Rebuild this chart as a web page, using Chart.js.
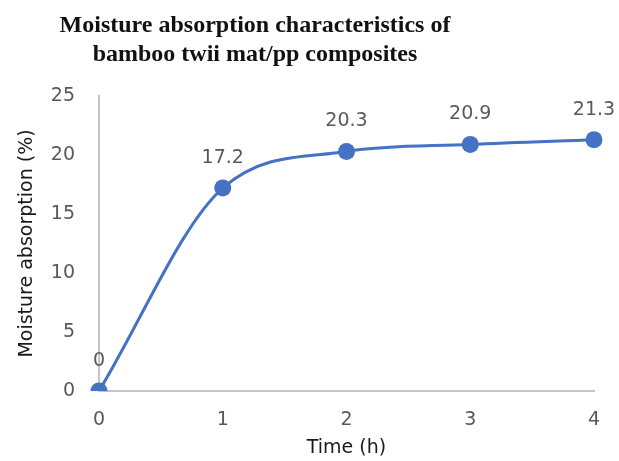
<!DOCTYPE html>
<html>
<head>
<meta charset="utf-8">
<script src="https://cdn.jsdelivr.net/npm/chart.js@4/dist/chart.umd.min.js"></script>
<style>
  html, body { margin: 0; padding: 0; background: #fff; }
  #wrap { width: 619px; height: 461px; }
</style>
</head>
<body>
<div id="wrap"><canvas id="chart" width="619" height="461"></canvas></div>
<script>
// Chart data
const timeLabels = ['0', '1', '2', '3', '4'];
const absorption = [0, 17.2, 20.3, 20.9, 21.3];
const titleLines = ['Moisture absorption characteristics of', 'bamboo twii mat/pp composites'];

const sans = "'DejaVu Sans', 'Noto Sans', sans-serif";

// Title drawn above the plot, centred a bit left of the canvas like the original
const titlePlugin = {
    id: 'topTitle',
    afterDraw(chart) {
        const ctx = chart.ctx;
        ctx.save();
        ctx.font = "bold 24px 'Liberation Serif', 'Times New Roman', serif";
        ctx.fillStyle = '#111';
        ctx.textAlign = 'center';
        ctx.textBaseline = 'middle';
        titleLines.forEach((line, i) => ctx.fillText(line, 255, 26 + i * 29));
        ctx.restore();
    }
};

// Value labels over each point
const valueLabels = {
    id: 'valueLabels',
    afterDatasetsDraw(chart) {
        const ctx = chart.ctx;
        const meta = chart.getDatasetMeta(0);
        ctx.save();
        ctx.font = '19px ' + sans;
        ctx.fillStyle = '#595959';
        ctx.textAlign = 'center';
        ctx.textBaseline = 'middle';
        meta.data.forEach((pt, i) => {
            ctx.fillText(String(absorption[i]), pt.x, pt.y - 30);
        });
        ctx.restore();
    }
};

new Chart(document.getElementById('chart'), {
    type: 'line',
    data: {
        labels: timeLabels,
        datasets: [
            {
                label: 'orange',
                data: absorption,
                showLine: false,
                backgroundColor: '#ED7D31',
                borderColor: '#ED7D31',
                pointStyle: 'rect',
                pointRadius: 9,
                pointBorderWidth: 0,
                pointBackgroundColor: '#ED7D31',
                pointBorderColor: '#ED7D31',
                order: 2
            },
            {
                label: 'blue',
                data: absorption,
                backgroundColor: '#4472C4',
                borderColor: '#4472C4',
                borderWidth: 3,
                cubicInterpolationMode: 'monotone',
                pointRadius: 7,
                pointBackgroundColor: '#4472C4',
                pointBorderColor: '#4472C4',
                order: 1
            }
        ]
    },
    options: {
        responsive: false,
        animation: false,
        layout: { padding: { top: 96, right: 25, left: 0, bottom: 0 } },
        plugins: {
            legend: { display: false },
            tooltip: { enabled: false },
            title: { display: false }
        },
        scales: {
            x: {
                offset: false,
                grid: { display: false, drawTicks: false },
                border: { display: true, color: '#c4c4c4', width: 2 },
                ticks: { color: '#595959', font: { size: 19, family: sans }, padding: 18 },
                title: {
                    display: true, text: 'Time (h)', color: '#1a1a1a',
                    font: { size: 19, family: sans }, padding: { top: 0, bottom: 2 }
                },
                afterFit(scale) { scale.height = 70; }
            },
            y: {
                min: 0, max: 25,
                grid: { display: false, drawTicks: false },
                border: { display: true, color: '#c4c4c4', width: 2 },
                ticks: { stepSize: 5, color: '#595959', font: { size: 19, family: sans }, padding: 24 },
                title: {
                    display: true, text: 'Moisture absorption (%)', color: '#1a1a1a',
                    font: { size: 19, family: sans }, padding: { top: 16, bottom: 0 }
                },
                afterFit(scale) { scale.width = 99; }
            }
        }
    },
    plugins: [titlePlugin, valueLabels]
});
</script>
</body>
</html>
